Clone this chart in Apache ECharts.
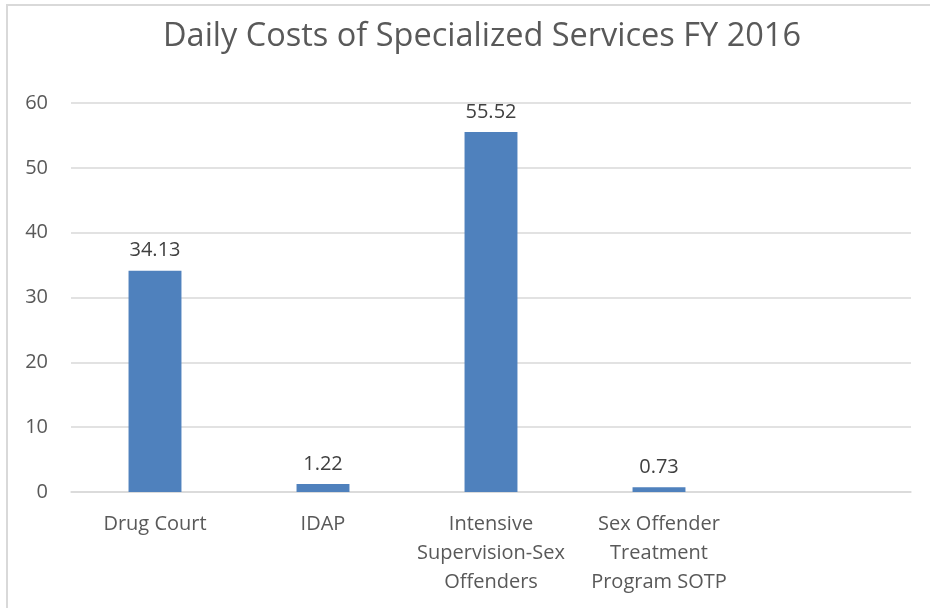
<!DOCTYPE html>
<html>
<head>
<meta charset="utf-8">
<script src="https://cdn.jsdelivr.net/npm/echarts@6/dist/echarts.min.js"></script>
<style>
html, body { margin: 0; padding: 0; background: #fff; }
#main { width: 930px; height: 608px; }
</style>
</head>
<body>
<div id="main"></div>
<script>
var categories = ['Drug Court', 'IDAP', 'Intensive\nSupervision-Sex\nOffenders', 'Sex Offender\nTreatment\nProgram SOTP', ''];
var costs = [34.13, 1.22, 55.52, 0.73, '-'];
var yTicks = { min: 0, max: 60, interval: 10 };

var myChart = echarts.init(document.getElementById('main'));
var option = {
    backgroundColor: '#fff',
    animation: false,
    title: {
        text: 'Daily Costs of Specialized Services FY 2016',
        left: 477,
        textAlign: 'center',
        top: 15,
        textStyle: {
            color: '#595959',
            fontSize: 32.5,
            fontWeight: 'normal',
            fontFamily: 'Open Sans'
        }
    },
    graphic: [{
        type: 'rect',
        shape: { x: 7, y: 5, width: 940, height: 620 },
        style: { fill: 'none', stroke: '#d9d9d9', lineWidth: 2 },
        silent: true
    }],
    grid: {
        left: 71,
        right: 19,
        top: 103,
        bottom: 116
    },
    xAxis: {
        type: 'category',
        data: categories,
        axisLine: { lineStyle: { color: '#d9d9d9', width: 1.5 } },
        axisTick: { show: false },
        axisLabel: {
            color: '#595959',
            fontSize: 20,
            fontFamily: 'Open Sans',
            lineHeight: 29,
            margin: 18,
            interval: 0
        }
    },
    yAxis: {
        type: 'value',
        min: yTicks.min,
        max: yTicks.max,
        interval: yTicks.interval,
        axisLine: { show: false },
        axisTick: { show: false },
        axisLabel: {
            color: '#595959',
            fontSize: 20,
            fontFamily: 'Open Sans',
            margin: 23
        },
        splitLine: { lineStyle: { color: '#d9d9d9', width: 1.5 } }
    },
    series: [{
        type: 'bar',
        data: costs,
        barWidth: '31.5%',
        itemStyle: { color: '#4f81bd' },
        label: {
            show: true,
            position: 'top',
            distance: 10,
            color: '#404040',
            fontSize: 20,
            fontFamily: 'Open Sans',
            formatter: function (p) { return p.value.toFixed(2); }
        }
    }]
};
myChart.setOption(option);
</script>
</body>
</html>
